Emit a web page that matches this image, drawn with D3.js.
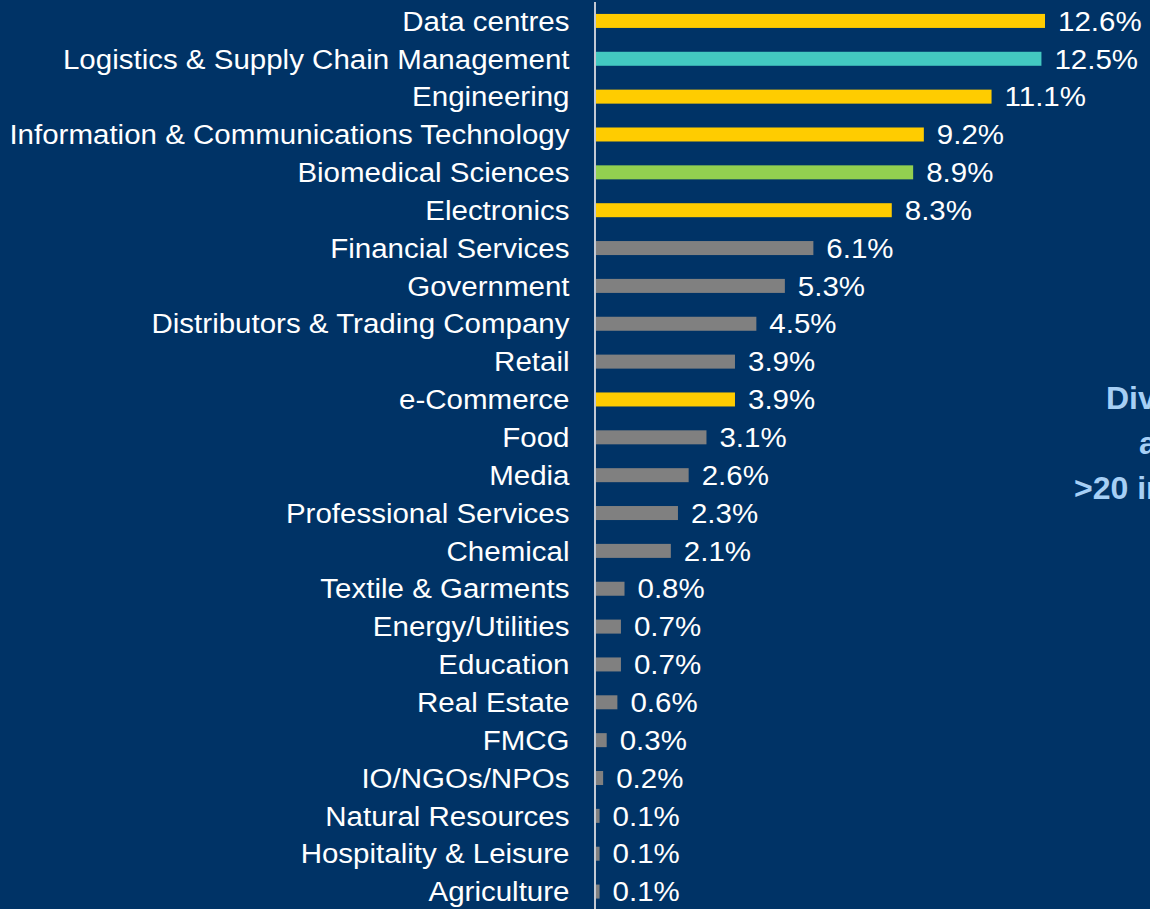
<!DOCTYPE html>
<html>
<head>
<meta charset="utf-8">
<script src="https://cdn.jsdelivr.net/npm/d3@7/dist/d3.min.js"></script>
<style>
  html, body { margin: 0; padding: 0; background: #003366; overflow: hidden; }
  svg { display: block; font-family: "Liberation Sans", Arial, sans-serif; }
</style>
</head>
<body>
<svg id="chart" width="1150" height="909"></svg>
<script>
// Share of hires by industry (%)
const industries = [
  "Data centres",
  "Logistics & Supply Chain Management",
  "Engineering",
  "Information & Communications Technology",
  "Biomedical Sciences",
  "Electronics",
  "Financial Services",
  "Government",
  "Distributors & Trading Company",
  "Retail",
  "e-Commerce",
  "Food",
  "Media",
  "Professional Services",
  "Chemical",
  "Textile & Garments",
  "Energy/Utilities",
  "Education",
  "Real Estate",
  "FMCG",
  "IO/NGOs/NPOs",
  "Natural Resources",
  "Hospitality & Leisure",
  "Agriculture"
];
const shares = [12.6, 12.5, 11.1, 9.2, 8.9, 8.3, 6.1, 5.3, 4.5, 3.9, 3.9, 3.1, 2.6, 2.3, 2.1, 0.8, 0.7, 0.7, 0.6, 0.3, 0.2, 0.1, 0.1, 0.1];
// Highlight group for each industry
const groups = ["growth", "logistics", "growth", "growth", "biomed", "growth", "other", "other", "other", "other", "growth", "other", "other", "other", "other", "other", "other", "other", "other", "other", "other", "other", "other", "other"];
const calloutLines = ["Diversity", "across", ">20 industries"];

const groupColor = d3.scaleOrdinal()
  .domain(["growth", "logistics", "biomed", "other"])
  .range(["#ffcc00", "#43c9c1", "#92d050", "#808080"]);

const rows = industries.map((name, i) => ({ name, value: shares[i], group: groups[i] }));

const svg = d3.select("#chart");
const W = 1150, H = 909;

svg.append("rect").attr("width", W).attr("height", H).attr("fill", "#003366");

const x = d3.scaleLinear().domain([0, 12.6]).range([596, 1045]);
const y = d3.scaleBand().domain(industries).range([2, 910.5]).paddingInner(0.63).paddingOuter(0.315);

const stretch = 1.093;
const fontSize = 27;

// Bars
svg.append("g").selectAll("rect")
  .data(rows)
  .join("rect")
  .attr("x", x(0))
  .attr("y", d => y(d.name))
  .attr("width", d => x(d.value) - x(0))
  .attr("height", y.bandwidth())
  .attr("fill", d => groupColor(d.group));

// Category axis (line only, labels drawn separately)
const axis = svg.append("g")
  .attr("transform", `translate(${x(0) - 1},0)`)
  .call(d3.axisLeft(y).tickSize(0).tickFormat(""));
axis.select(".domain").attr("stroke", "#c3c9d3").attr("stroke-width", 2).attr("d", `M0,2V${H}`);

// Category labels
svg.append("g").selectAll("text")
  .data(rows)
  .join("text")
  .attr("transform", d => `translate(569.5,${y(d.name) + y.bandwidth() / 2}) scale(${stretch},1)`)
  .attr("dy", "0.36em")
  .attr("text-anchor", "end")
  .attr("fill", "#ffffff")
  .attr("font-size", fontSize)
  .text(d => d.name);

// Value labels
svg.append("g").selectAll("text")
  .data(rows)
  .join("text")
  .attr("transform", d => `translate(${x(d.value) + 13},${y(d.name) + y.bandwidth() / 2}) scale(${stretch},1)`)
  .attr("dy", "0.36em")
  .attr("text-anchor", "start")
  .attr("fill", "#ffffff")
  .attr("font-size", fontSize)
  .text(d => d3.format(".1f")(d.value) + "%");

// Callout text on the right
const calloutX = [1106, 1139, 1074];
svg.append("g").selectAll("text")
  .data(calloutLines)
  .join("text")
  .attr("x", (d, i) => calloutX[i])
  .attr("y", (d, i) => 409 + i * 45)
  .attr("fill", "#a6cff5")
  .attr("font-weight", "bold")
  .attr("font-size", 32)
  .text(d => d);
</script>
</body>
</html>
